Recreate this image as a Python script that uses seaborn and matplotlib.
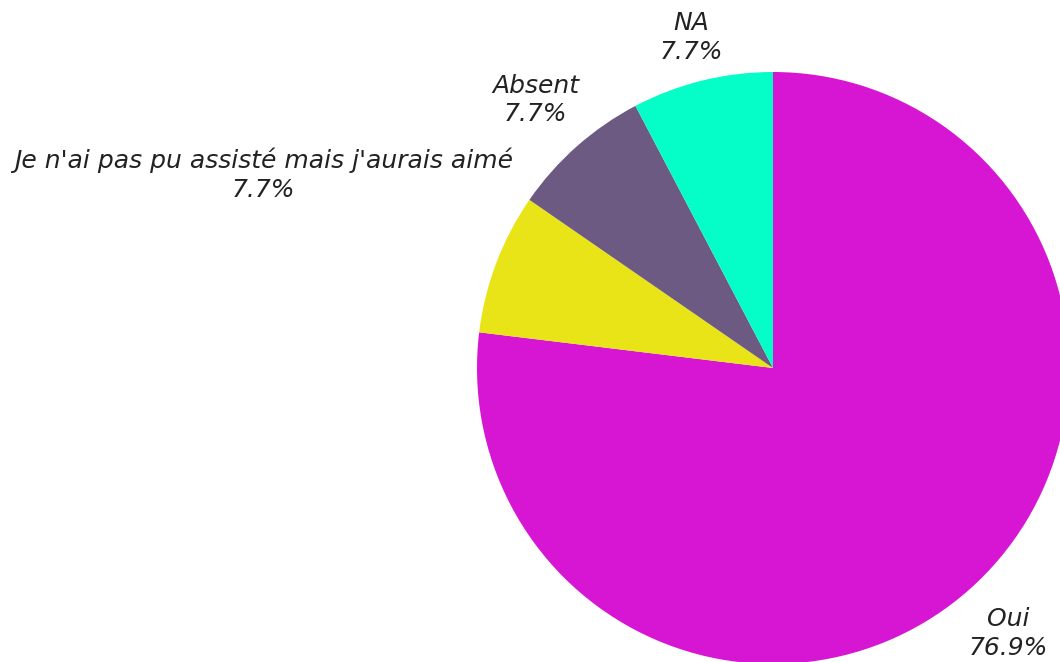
"""Pie chart of attendance answers."""

import matplotlib.pyplot as plt
import numpy as np
import seaborn as sns

# Data
answers = ["Oui", "Je n'ai pas pu assisté mais j'aurais aimé", "Absent", "NA"]
counts = [10, 1, 1, 1]

# Style
colors = ["#D616D3", "#E9E417", "#6C5A82", "#05FDC8"]
label_dist = [1.2, 1.84, 1.21, 1.15]

sns.set_style("white")
plt.rcParams["font.family"] = ["DejaVu Sans"]

fig = plt.figure(figsize=(10.6, 6.62), dpi=100)
ax = fig.add_axes([0, 0, 1, 1])

wedges, _ = ax.pie(
    counts,
    colors=colors,
    startangle=90,
    counterclock=False,
    radius=1,
    wedgeprops={"linewidth": 0},
)

# Labels outside the pie, on the ray through the middle of each slice
total = sum(counts)
for wedge, name, n, dist in zip(wedges, answers, counts, label_dist):
    mid = np.deg2rad((wedge.theta1 + wedge.theta2) / 2)
    ax.text(
        dist * np.cos(mid),
        dist * np.sin(mid),
        f"{name}\n{n / total * 100:.1f}%",
        ha="center",
        va="center",
        fontsize=18,
        style="italic",
        color="#222222",
        linespacing=1.25,
    )

ax.set_xlim(-773 / 296, (1060 - 773) / 296)
ax.set_ylim(-(662 - 368) / 296, 368 / 296)
ax.axis("off")

fig.savefig("out.png", dpi=100)
plt.close()
